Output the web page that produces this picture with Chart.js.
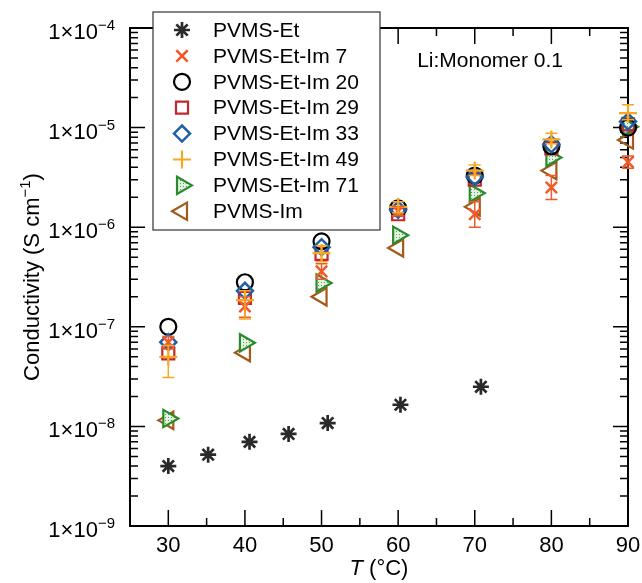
<!DOCTYPE html>
<html>
<head>
<meta charset="utf-8">
<script src="https://cdn.jsdelivr.net/npm/chart.js@4.4.0/dist/chart.umd.min.js"></script>
<style>
  html, body { margin: 0; padding: 0; background: #fff; }
</style>
</head>
<body>
<canvas id="condChart" width="642" height="583"></canvas>
<script>
// Temperatures (°C) and conductivities (S/cm)
const temps = [30, 40, 50, 60, 70, 80, 90];
const etTemps = [30, 35.2, 40.6, 45.7, 50.8, 60.3, 70.8];
const etVals = [4.0e-9, 5.2e-9, 7.0e-9, 8.4e-9, 1.08e-8, 1.65e-8, 2.5e-8];

const etIm7 = [7.0e-8, 1.6e-7, 3.6e-7, 1.45e-6, 1.35e-6, 2.5e-6, 4.5e-6];
const etIm7Lo = [6.0e-8, 1.25e-7, 3.0e-7, 1.3e-6, 1.0e-6, 1.9e-6, 3.9e-6];
const etIm7Hi = [8.0e-8, 2.0e-7, 4.3e-7, 1.6e-6, 1.8e-6, 3.3e-6, 5.2e-6];

const etIm20 = [1.0e-7, 2.8e-7, 7.2e-7, 1.55e-6, 3.3e-6, 6.5e-6, 1.0e-5];
const etIm29 = [5.4e-8, 1.95e-7, 5.4e-7, 1.35e-6, 3.0e-6, 6.2e-6, 1.08e-5];
const etIm33 = [7.0e-8, 2.3e-7, 6.3e-7, 1.5e-6, 3.2e-6, 6.8e-6, 1.15e-5];

const etIm49 = [5.0e-8, 1.85e-7, 5.5e-7, 1.6e-6, 3.7e-6, 7.6e-6, 1.4e-5];
const etIm49Lo = [3.1e-8, 1.2e-7, 4.5e-7, 1.4e-6, 3.3e-6, 6.9e-6, 1.2e-5];
const etIm49Hi = [6.5e-8, 2.3e-7, 6.5e-7, 1.8e-6, 4.2e-6, 8.8e-6, 1.7e-5];

const etIm71 = [1.2e-8, 6.9e-8, 2.75e-7, 8.3e-7, 2.2e-6, 5.0e-6, 1.02e-5];
const pvmsIm = [1.15e-8, 5.5e-8, 2.0e-7, 6.2e-7, 1.6e-6, 3.7e-6, 7.5e-6];

const xTicks = [30, 40, 50, 60, 70, 80, 90];
const yDecades = [-9, -8, -7, -6, -5, -4];

const FONT = "'Liberation Sans', Arial, Helvetica, sans-serif";

// light dotted fill for the green triangles
function dotFill() {
  const c = document.createElement('canvas');
  c.width = 3; c.height = 3;
  const g = c.getContext('2d');
  g.fillStyle = '#e2f1e2';
  g.fillRect(0, 0, 3, 3);
  g.fillStyle = '#4da64d';
  g.fillRect(0, 0, 1, 1);
  return g.createPattern(c, 'repeat');
}

function pts(xs, ys) {
  return ys.map((v, i) => ({ x: xs[i], y: v }));
}

const series = [
  { label: 'PVMS-Et', data: pts(etTemps, etVals), style: 'star', color: '#2a2a2a', r: 8, bw: 2.7, rot: 0, fill: 'rgba(0,0,0,0)' },
  { label: 'PVMS-Et-Im 7', data: pts(temps, etIm7), style: 'crossRot', color: '#f05a28', r: 8, bw: 2.5, rot: 0, fill: 'rgba(0,0,0,0)' },
  { label: 'PVMS-Et-Im 20', data: pts(temps, etIm20), style: 'circle', color: '#000000', r: 8, bw: 2.2, rot: 0, fill: 'rgba(0,0,0,0)' },
  { label: 'PVMS-Et-Im 29', data: pts(temps, etIm29), style: 'rect', color: '#c1272d', r: 8.5, bw: 2.2, rot: 0, fill: 'rgba(0,0,0,0)' },
  { label: 'PVMS-Et-Im 33', data: pts(temps, etIm33), style: 'rectRot', color: '#1f5fa8', r: 8, bw: 2.5, rot: 0, fill: 'rgba(0,0,0,0)' },
  { label: 'PVMS-Et-Im 49', data: pts(temps, etIm49), style: 'cross', color: '#f7a823', r: 9, bw: 2.2, rot: 0, fill: 'rgba(0,0,0,0)' },
  { label: 'PVMS-Et-Im 71', data: pts(temps, etIm71), style: 'triangle', color: '#2b8a2b', r: 10, bw: 2.2, rot: 90, fill: dotFill() },
  { label: 'PVMS-Im', data: pts(temps, pvmsIm), style: 'triangle', color: '#a3591a', r: 10, bw: 2.2, rot: -90, fill: 'rgba(0,0,0,0)' }
];

// error bars on two of the series
const errorBars = [
  { idx: 1, lo: etIm7Lo, hi: etIm7Hi },
  { idx: 5, lo: etIm49Lo, hi: etIm49Hi }
];

// draw order (first listed sits on top)
const drawOrder = [5, 1, 4, 2, 3, 6, 7, 0];

const datasets = drawOrder.map(i => {
  const s = series[i];
  return {
    label: s.label,
    data: s.data,
    pointStyle: s.style,
    pointRadius: s.r,
    pointHoverRadius: s.r,
    pointBorderWidth: s.bw,
    pointRotation: s.rot,
    borderColor: s.color,
    backgroundColor: s.fill,
    showLine: false,
    clip: false
  };
});

function drawSci(ctx, exp, xRight, yTick) {
  const base = '1\u00d710';
  const sup = '\u2212' + Math.abs(exp);
  ctx.font = '22px ' + FONT;
  const bw = ctx.measureText(base).width;
  ctx.font = '15px ' + FONT;
  const sw = ctx.measureText(sup).width;
  const x0 = xRight - bw - sw;
  ctx.textAlign = 'left';
  ctx.textBaseline = 'alphabetic';
  ctx.font = '22px ' + FONT;
  ctx.fillText(base, x0, yTick + 11);
  ctx.font = '15px ' + FONT;
  ctx.fillText(sup, x0 + bw, yTick + 2);
}

// frame, inward ticks and tick labels
const axesPlugin = {
  id: 'axesFrame',
  beforeDatasetsDraw(chart) {
    const { ctx, chartArea: a, scales: { x, y } } = chart;
    ctx.save();
    ctx.strokeStyle = '#000';
    ctx.lineWidth = 2;
    ctx.strokeRect(a.left, a.top, a.right - a.left, a.bottom - a.top);

    ctx.lineWidth = 1.5;
    ctx.beginPath();
    for (let e = -9; e < -4; e++) {
      for (let m = 1; m <= 9; m++) {
        const py = y.getPixelForValue(m * Math.pow(10, e));
        const len = m === 1 ? 15 : 8;
        ctx.moveTo(a.left, py); ctx.lineTo(a.left + len, py);
        ctx.moveTo(a.right, py); ctx.lineTo(a.right - len, py);
      }
    }
    const pTop = y.getPixelForValue(1e-4);
    ctx.moveTo(a.left, pTop); ctx.lineTo(a.left + 15, pTop);
    ctx.moveTo(a.right, pTop); ctx.lineTo(a.right - 15, pTop);

    for (let t = 25; t <= 90; t += 5) {
      const px = x.getPixelForValue(t);
      const len = t % 10 === 0 ? 16 : 8;
      ctx.moveTo(px, a.bottom); ctx.lineTo(px, a.bottom - len);
      ctx.moveTo(px, a.top); ctx.lineTo(px, a.top + len);
    }
    ctx.stroke();

    ctx.fillStyle = '#000';
    yDecades.forEach(e => drawSci(ctx, e, a.left - 15, y.getPixelForValue(Math.pow(10, e))));

    ctx.font = '22px ' + FONT;
    ctx.textAlign = 'center';
    ctx.textBaseline = 'alphabetic';
    xTicks.forEach(t => ctx.fillText(String(t), x.getPixelForValue(t), a.bottom + 26));

    // x title: italic T (°C)
    const tPart = 'T';
    const rest = ' (\u00b0C)';
    ctx.font = 'italic 22px ' + FONT;
    const tw = ctx.measureText(tPart).width;
    ctx.font = '22px ' + FONT;
    const rw = ctx.measureText(rest).width;
    const cx = (a.left + a.right) / 2;
    const sx = cx - (tw + rw) / 2;
    ctx.textAlign = 'left';
    ctx.font = 'italic 22px ' + FONT;
    ctx.fillText(tPart, sx, a.bottom + 49);
    ctx.font = '22px ' + FONT;
    ctx.fillText(rest, sx + tw, a.bottom + 49);

    // y title: Conductivity (S cm^-1)
    const main = 'Conductivity (S cm';
    const sup = '\u22121';
    const tail = ')';
    ctx.font = '22px ' + FONT;
    const mw = ctx.measureText(main).width;
    const tlw = ctx.measureText(tail).width;
    ctx.font = '15px ' + FONT;
    const spw = ctx.measureText(sup).width;
    const total = mw + spw + tlw;
    ctx.translate(39, (a.top + a.bottom) / 2);
    ctx.rotate(-Math.PI / 2);
    let ox = -total / 2;
    ctx.font = '22px ' + FONT;
    ctx.fillText(main, ox, 0);
    ox += mw;
    ctx.font = '15px ' + FONT;
    ctx.fillText(sup, ox, -9);
    ox += spw;
    ctx.font = '22px ' + FONT;
    ctx.fillText(tail, ox, 0);
    ctx.restore();
  },
  afterDatasetsDraw(chart) {
    const { ctx, scales: { x, y } } = chart;
    ctx.save();
    ctx.lineWidth = 1.5;
    errorBars.forEach(eb => {
      const s = series[eb.idx];
      ctx.strokeStyle = s.color;
      ctx.beginPath();
      s.data.forEach((p, i) => {
        const px = x.getPixelForValue(p.x);
        const y1 = y.getPixelForValue(eb.lo[i]);
        const y2 = y.getPixelForValue(eb.hi[i]);
        ctx.moveTo(px, y1); ctx.lineTo(px, y2);
        ctx.moveTo(px - 6, y1); ctx.lineTo(px + 6, y1);
        ctx.moveTo(px - 6, y2); ctx.lineTo(px + 6, y2);
      });
      ctx.stroke();
    });
    ctx.restore();
  }
};

// boxed legend inside the plot plus the annotation
const legendPlugin = {
  id: 'boxLegend',
  afterDraw(chart) {
    const { ctx, chartArea: a, scales: { x, y } } = chart;
    const bx = a.left + 23, by = a.top - 16, bwid = 227, bh = 218;
    ctx.save();
    ctx.fillStyle = '#fff';
    ctx.fillRect(bx, by, bwid, bh);
    ctx.strokeStyle = '#333';
    ctx.lineWidth = 1.2;
    ctx.strokeRect(bx, by, bwid, bh);

    series.forEach((s, i) => {
      const cy = by + 18 + i * 25.9;
      ctx.strokeStyle = s.color;
      ctx.fillStyle = s.fill;
      ctx.lineWidth = s.bw;
      Chart.helpers.drawPoint(ctx, { pointStyle: s.style, radius: s.r, rotation: s.rot, borderWidth: s.bw }, bx + 29, cy);
      ctx.fillStyle = '#000';
      ctx.font = '21px ' + FONT;
      ctx.textAlign = 'left';
      ctx.textBaseline = 'middle';
      ctx.fillText(s.label, bx + 60, cy + 1);
    });

    ctx.fillStyle = '#000';
    ctx.font = '21px ' + FONT;
    ctx.textAlign = 'center';
    ctx.textBaseline = 'middle';
    ctx.fillText('Li:Monomer 0.1', x.getPixelForValue(72), y.getPixelForValue(4.6e-5));
    ctx.restore();
  }
};

new Chart(document.getElementById('condChart'), {
  type: 'scatter',
  data: { datasets: datasets },
  options: {
    responsive: false,
    animation: false,
    devicePixelRatio: 1,
    layout: { padding: { left: 130, top: 28, right: 14, bottom: 57 } },
    plugins: { legend: { display: false }, tooltip: { enabled: false } },
    scales: {
      x: { type: 'linear', min: 25, max: 90, display: false },
      y: { type: 'logarithmic', min: 1e-9, max: 1e-4, display: false }
    }
  },
  plugins: [axesPlugin, legendPlugin]
});
</script>
</body>
</html>
